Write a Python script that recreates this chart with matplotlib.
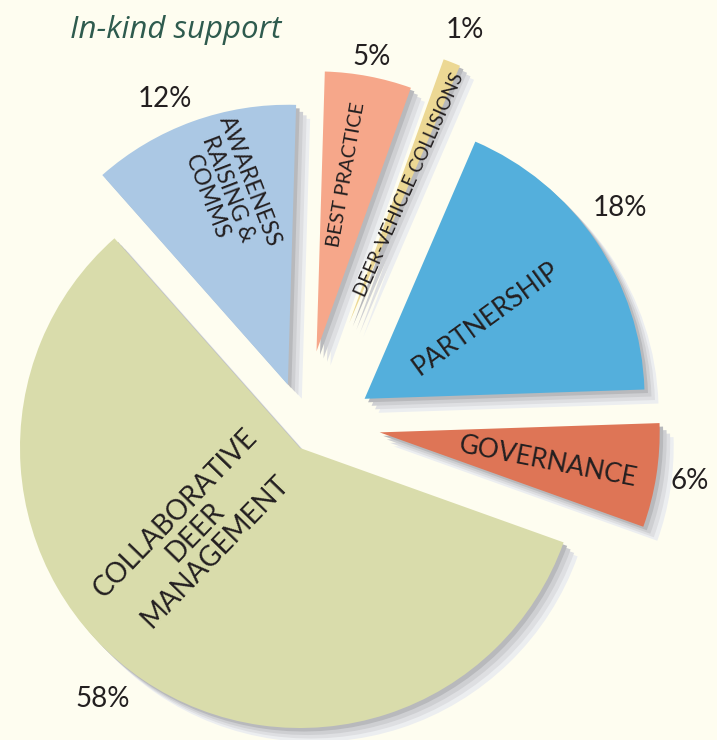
import numpy as np
import matplotlib.pyplot as plt

# data (counter-clockwise, starting with the big green slice)
categories = ["COLLABORATIVE\nDEER\nMANAGEMENT", "GOVERNANCE", "PARTNERSHIP",
              "DEER-VEHICLE COLLISIONS", "BEST PRACTICE", "AWARENESS\nRAISING &\nCOMMS"]
shares = [58, 6, 18, 1, 5, 12]
pct_labels = ["58%", "6%", "18%", "1%", "5%", "12%"]
colors = ["#d9dcab", "#de7556", "#54afdc", "#ecd894", "#f6a78a", "#abc8e4"]

# layout
explode = [0.0, 0.29, 0.29, 0.48, 0.35, 0.23]
nudge = [0, 20, 3, 0, 1, -9]          # degrees, turns the explode direction
label_r = [0.48, 0.61, 0.52, 0.54, 0.64, 0.73]
label_da = [-17, -1, -1, -2, 1, -3]
label_rot = [46, -11, 36, 66, 80, -69]
label_size = [20, 19, 19, 13.5, 14.5, 16.5]
pct_r = [1.14, 1.12, 1.14, 1.125, 1.07, 1.11]
pct_da = [-4, 0, 2.5, 0, 0, 3.4]

shadow_cols = ["#eceef0", "#dedfe2", "#cecfd2", "#b8b9bc"]
shadow_step = 0.0125

bg = "#fefdf0"
ink = "#231f20"
START = 131.5

fig = plt.figure(figsize=(7.17, 7.40), dpi=100)
fig.patch.set_facecolor(bg)
ax = fig.add_axes([0, 0, 1, 1])
ax.set_facecolor(bg)


def draw_pie(offset, cols, z):
    wedges, _ = ax.pie(shares, colors=cols, startangle=START, radius=1,
                       center=offset,
                       wedgeprops=dict(linewidth=0, zorder=z))
    centers = []
    for i, w in enumerate(wedges):
        mid = np.deg2rad((w.theta1 + w.theta2) / 2 + nudge[i])
        c = (offset[0] + explode[i] * np.cos(mid), offset[1] + explode[i] * np.sin(mid))
        w.set_center(c)
        centers.append(c)
    return wedges, centers


for k, sc in zip([4, 3, 2, 1], shadow_cols):
    draw_pie((k * shadow_step, -k * shadow_step), [sc] * len(shares), 1 + (4 - k))

wedges, centers = draw_pie((0, 0), colors, 10)

for i, w in enumerate(wedges):
    cx, cy = centers[i]
    mid = (w.theta1 + w.theta2) / 2
    a = np.deg2rad(mid + label_da[i])
    ax.text(cx + label_r[i] * np.cos(a), cy + label_r[i] * np.sin(a), categories[i],
            rotation=label_rot[i], rotation_mode="anchor", ha="center", va="center",
            multialignment="center", fontsize=label_size[i], family="Lato",
            color=ink, zorder=20, linespacing=1.1)
    a = np.deg2rad(mid + pct_da[i])
    ax.text(cx + pct_r[i] * np.cos(a), cy + pct_r[i] * np.sin(a), pct_labels[i],
            ha="center", va="center", fontsize=20, family="Lato", color=ink, zorder=20)

ax.text(0.098, 0.960, "In-kind support", transform=fig.transFigure, ha="left",
        va="center", fontsize=22.5, family="Open Sans", style="italic", color="#2e5b4e")

ax.set_xlim(-300 / 280, 417 / 280)
ax.set_ylim(-292 / 280, 448 / 280)
ax.set_aspect("auto")
ax.axis("off")

plt.savefig("out.png", dpi=100, facecolor=bg)
